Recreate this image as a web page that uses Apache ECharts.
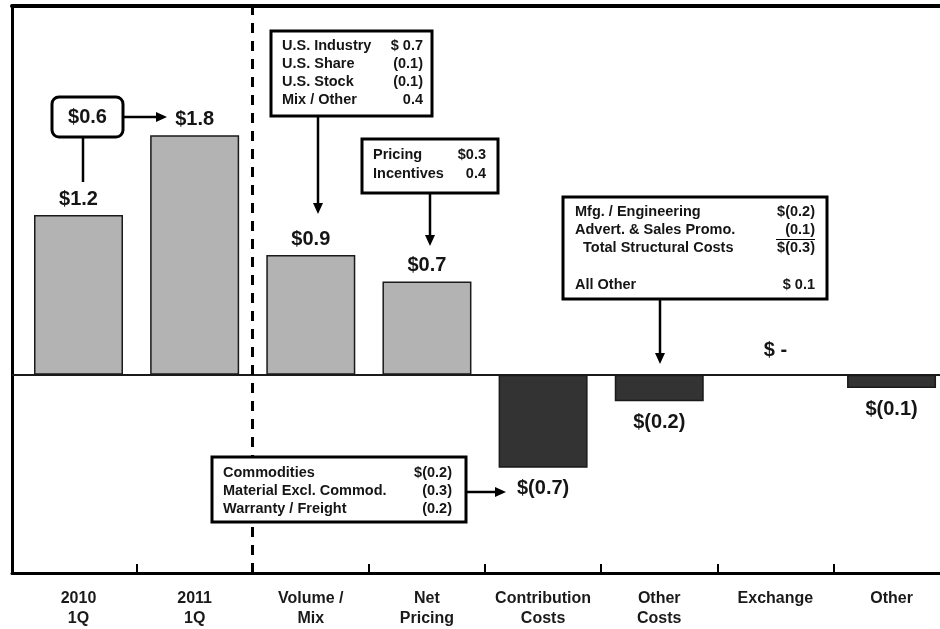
<!DOCTYPE html>
<html>
<head>
<meta charset="utf-8">
<script src="https://cdn.jsdelivr.net/npm/echarts@6/dist/echarts.min.js"></script>
<style>
html,body{margin:0;padding:0;background:#fff;}
#main{width:940px;height:629px;}
</style>
</head>
<body>
<div id="main"></div>
<script>
// ---- data ----
const categories = ['2010\n1Q', '2011\n1Q', 'Volume /\nMix', 'Net\nPricing', 'Contribution\nCosts', 'Other\nCosts', 'Exchange', 'Other'];
const values = [1.2, 1.8, 0.9, 0.7, -0.7, -0.2, 0, -0.1];
const changeLabel = '$0.6';
const volumeNotes = [['U.S. Industry', '$ 0.7'], ['U.S. Share', '(0.1)'], ['U.S. Stock', '(0.1)'], ['Mix / Other', '0.4']];
const pricingNotes = [['Pricing', '$0.3'], ['Incentives', '0.4']];
const otherCostNotes = [['Mfg. / Engineering', '$(0.2)'], ['Advert. & Sales Promo.', '(0.1)'], ['  Total Structural Costs', '$(0.3)'], ['All Other', '$ 0.1']];
const contribNotes = [['Commodities', '$(0.2)'], ['Material Excl. Commod.', '(0.3)'], ['Warranty / Freight', '(0.2)']];
const tickPositions = [0.5, 1.5, 2.5, 3.5, 4.5, 5.5, 6.5];
const labelPositions = [0, 1, 2, 3, 4, 5, 6, 7];

// ---- styling ----
const LIGHT = '#b3b3b3', DARK = '#333333';
const FONT = '"Liberation Sans", Arial, sans-serif';
function fmt(v) {
  if (v === 0) return '$ -';
  if (v < 0) return '$(' + Math.abs(v).toFixed(1) + ')';
  return '$' + v.toFixed(1);
}
const barData = values.map((v, i) => ({
  value: [i, v],
  itemStyle: { color: v < 0 ? DARK : LIGHT },
  label: { position: v < 0 ? 'bottom' : 'top', distance: v < 0 ? 11 : (v === 0 ? 13 : 6) }
}));

// annotation graphics
const g = [];
function box(x, y, w, h, r) {
  g.push({ type: 'rect', z: 100, shape: { x, y, width: w, height: h, r: r || 0 }, style: { fill: '#fff', stroke: '#000', lineWidth: 3 } });
}
function txt(x, y, text, align, size) {
  g.push({ type: 'text', z: 101, x, y, style: { text, fill: '#151515', font: 'bold ' + size + 'px ' + FONT, align: align, verticalAlign: 'middle', textAlign: align, textVerticalAlign: 'middle' } });
}
function line(x1, y1, x2, y2, w) {
  g.push({ type: 'line', z: 100, shape: { x1, y1, x2, y2 }, style: { stroke: '#000', lineWidth: w || 2.5 } });
}
function arrow(x1, y1, x2, y2) {
  const dx = Math.sign(x2 - x1), dy = Math.sign(y2 - y1);
  line(x1, y1, x2 - dx * 8, y2 - dy * 8);
  let pts;
  if (dx !== 0) pts = [[x2, y2], [x2 - dx * 11, y2 - 5], [x2 - dx * 11, y2 + 5]];
  else pts = [[x2, y2], [x2 - 5, y2 - dy * 11], [x2 + 5, y2 - dy * 11]];
  g.push({ type: 'polygon', z: 100, shape: { points: pts }, style: { fill: '#000' } });
}
function notes(list, lx, rx, y0, step, size, ys) {
  list.forEach((row, i) => {
    const y = ys ? ys[i] : y0 + i * step;
    txt(lx, y, row[0], 'left', size);
    txt(rx, y, row[1], 'right', size);
  });
}

// $0.6 box
box(52, 97, 71, 40, 7);
txt(87.5, 117, changeLabel, 'center', 20);
line(83, 137, 83, 182, 2.5);
arrow(123, 117, 167, 117);

// Volume box
box(271, 31, 161, 85);
notes(volumeNotes, 282, 423, 46, 18, 14.5);
arrow(318, 116, 318, 214);

// Pricing box
box(362, 139, 136, 54);
notes(pricingNotes, 373, 486, 155, 19, 14.5);
arrow(430, 193, 430, 246);

// Other costs box
box(563, 197, 264, 102);
notes(otherCostNotes, 575, 815, 0, 0, 14.5, [212, 230, 248, 285]);
line(776, 239.5, 815, 239.5, 1.2);
arrow(660, 299, 660, 364);

// Contribution box
box(212, 457, 254, 65);
notes(contribNotes, 223, 452, 473, 18, 14.5);
arrow(466, 492, 506, 492);

// ---- axis geometry ----
const BAND = 116.15;
const xMin = -(78.5 - 12) / BAND;
const gridW = 928;
const xMax = xMin + gridW / BAND;

const chart = echarts.init(document.getElementById('main'), null, { renderer: 'canvas' });
chart.setOption({
  animation: false,
  backgroundColor: '#ffffff',
  grid: { left: 12, top: 6, right: 0, bottom: 56, containLabel: false },
  xAxis: [
    {
      type: 'value', min: xMin, max: xMax, position: 'bottom',
      axisLine: { show: true, onZero: false, lineStyle: { color: '#000', width: 3 } },
      axisTick: { show: true, inside: true, length: 9, customValues: tickPositions, lineStyle: { color: '#000', width: 2 } },
      axisLabel: {
        show: true, customValues: labelPositions, margin: 16,
        formatter: v => categories[Math.round(v)],
        color: '#1a1a1a', fontFamily: FONT, fontWeight: 'bold', fontSize: 16, lineHeight: 20, verticalAlign: 'top'
      },
      splitLine: { show: false }
    },
    {
      type: 'value', min: xMin, max: xMax, position: 'top',
      axisLine: { show: true, onZero: false, lineStyle: { color: '#000', width: 4 } },
      axisTick: { show: false }, axisLabel: { show: false }, splitLine: { show: false }
    }
  ],
  yAxis: {
    type: 'value', min: -1.491, max: 2.772,
    axisLine: { show: true, onZero: false, lineStyle: { color: '#000', width: 3 } },
    axisTick: { show: false }, axisLabel: { show: false }, splitLine: { show: false }
  },
  series: [{
    type: 'bar',
    xAxisIndex: 0,
    data: barData,
    barWidth: 89,
    itemStyle: { borderColor: '#1a1a1a', borderWidth: 1.5 },
    label: {
      show: true,
      formatter: p => fmt(p.value[1]),
      color: '#151515', fontFamily: FONT, fontWeight: 'bold', fontSize: 20
    },
    markLine: {
      silent: true, symbol: 'none', animation: false,
      label: { show: false },
      data: [
        { yAxis: 0, lineStyle: { type: 'solid', color: '#1a1a1a', width: 2 } },
        { xAxis: 1.5, lineStyle: { type: [10, 8], color: '#000', width: 3 } }
      ]
    }
  }],
  graphic: g
});
</script>
</body>
</html>
